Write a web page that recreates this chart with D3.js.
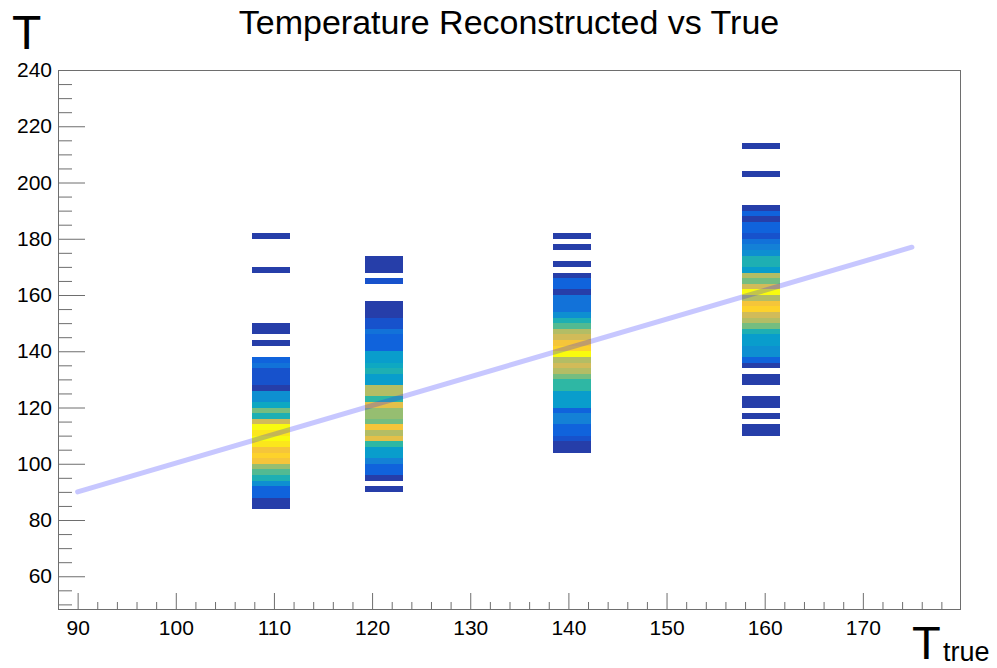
<!DOCTYPE html>
<html><head><meta charset="utf-8">
<script src="https://cdn.jsdelivr.net/npm/d3@7"></script>
<style>
body{margin:0;background:#fff}
svg{display:block}
text{font-family:"Liberation Sans",Arial,Helvetica,sans-serif;fill:#000}
</style>
</head><body>
<svg id="c" width="997" height="668"></svg>
<script>
// ---------- data ----------
const chartTitle = "Temperature Reconstructed vs True";
const yTitle = "T";
const xTitleMain = "T";
const xTitleSub = "true";
const xDomain = [88, 180];
const yDomain = [48, 240];
const xTicks = [90, 100, 110, 120, 130, 140, 150, 160, 170];
const yTicks = [60, 80, 100, 120, 140, 160, 180, 200, 220, 240];
const columnCenters = [109.7, 121.2, 140.4, 159.6];
const columnWidth = 3.85;
const binHeight = 2;
const columnStarts = [84, 90, 104, 110];
const col1Counts = [1,1,3,3,6,9,11,13,17,18,17,19,20,19,20,15,9,12,8,6,6,1,2,2,2,4,3,0,0,1,0,1,1,0,0,0,0,0,0,0,0,0,1,0,0,0,0,0,1];
const col2Counts = [1,0,1,3,3,5,7,7,10,16,14,17,12,13,13,16,10,14,14,7,7,9,8,7,7,3,3,3,4,2,2,1,1,1,0,0,0,2,0,1,1,1];
const col3Counts = [1,1,2,3,3,5,5,3,7,7,7,10,10,12,14,15,14,20,18,17,15,14,11,9,6,4,4,4,1,3,3,1,0,1,0,0,1,0,1];
const col4Counts = [1,1,0,1,0,1,1,0,0,1,1,0,1,3,6,6,7,7,9,12,14,15,18,17,14,20,15,12,14,7,9,9,6,5,4,2,3,3,1,3,1,0,0,0,0,0,1,0,0,0,0,1];
const zMax = 20;
const paletteStops = [0, 0.125, 0.25, 0.375, 0.5, 0.625, 0.75, 0.875, 1];
const paletteColors = ["#352a87","#0f5cdd","#1481d6","#06a4ca","#2eb7a4","#87bf77","#d1bb59","#fec832","#f9fb0e"];
const refLineX = [90, 175];
const refLineY = [90, 177];

// ---------- drawing ----------
const svg = d3.select("#c");
const W = 997, H = 668;
const frame = {left: 58, top: 70, right: 961, bottom: 610};
const x = d3.scaleLinear().domain(xDomain).range([frame.left, frame.right]);
const y = d3.scaleLinear().domain(yDomain).range([frame.bottom, frame.top]);
const color = d3.scaleLinear()
  .domain(paletteStops.map(s => s * zMax))
  .range(paletteColors)
  .interpolate(d3.interpolateRgb)
  .clamp(true);

svg.append("rect").attr("width", W).attr("height", H).attr("fill", "#fff");

// histogram cells
const allCols = [col1Counts, col2Counts, col3Counts, col4Counts];
const cells = [];
allCols.forEach((counts, ci) => {
  counts.forEach((n, i) => {
    if (n > 0) cells.push({xc: columnCenters[ci], y0: columnStarts[ci] + i * binHeight, n});
  });
});
svg.append("g").selectAll("rect").data(cells).join("rect")
  .attr("x", d => x(d.xc - columnWidth / 2))
  .attr("width", d => x(d.xc + columnWidth / 2) - x(d.xc - columnWidth / 2))
  .attr("y", d => y(d.y0 + binHeight))
  .attr("height", d => y(d.y0) - y(d.y0 + binHeight))
  .attr("fill", d => color(d.n))
  .attr("shape-rendering", "crispEdges");

// reference line
svg.append("line")
  .attr("x1", x(refLineX[0])).attr("y1", y(refLineY[0]))
  .attr("x2", x(refLineX[1])).attr("y2", y(refLineY[1]))
  .attr("stroke", "rgb(40,40,255)").attr("stroke-opacity", 0.26)
  .attr("stroke-width", 5).attr("stroke-linecap", "round");

// axes
const axisColor = "#6e6e6e";
const xMinor = d3.range(88, 181, 2).filter(v => v % 10 !== 0);
const yMinor = d3.range(50, 241, 5).filter(v => v % 20 !== 0);

const gx = svg.append("g").attr("transform", `translate(0,${frame.bottom})`);
gx.call(d3.axisBottom(x).tickValues(xTicks).tickSizeInner(-17).tickSizeOuter(0).tickPadding(10).tickFormat(d3.format("d")));
const gxm = svg.append("g").attr("transform", `translate(0,${frame.bottom})`);
gxm.call(d3.axisBottom(x).tickValues(xMinor).tickSizeInner(-8).tickSizeOuter(0).tickFormat(""));

const gy = svg.append("g").attr("transform", `translate(${frame.left},0)`);
gy.call(d3.axisLeft(y).tickValues(yTicks).tickSizeInner(-27).tickSizeOuter(0).tickPadding(6).tickFormat(d3.format("d")));
const gym = svg.append("g").attr("transform", `translate(${frame.left},0)`);
gym.call(d3.axisLeft(y).tickValues(yMinor).tickSizeInner(-14).tickSizeOuter(0).tickFormat(""));

[gx, gxm, gy, gym].forEach(g => {
  g.select(".domain").remove();
  g.selectAll(".tick line").attr("stroke", axisColor).attr("stroke-width", 1);
  g.selectAll(".tick text").attr("font-size", 21).attr("fill", "#000")
    .style("font-family", '"Liberation Sans",Arial,sans-serif');
});

// frame
svg.append("rect")
  .attr("x", frame.left + 0.5).attr("y", frame.top + 0.5)
  .attr("width", frame.right - frame.left - 1).attr("height", frame.bottom - frame.top - 1)
  .attr("fill", "none").attr("stroke", axisColor).attr("stroke-width", 1);

// titles
svg.append("text").attr("x", 509).attr("y", 34).attr("text-anchor", "middle")
  .attr("font-size", 34).text(chartTitle);
svg.append("text").attr("x", 12).attr("y", 49).attr("font-size", 48).text(yTitle);
svg.append("text").attr("x", 912).attr("y", 659).attr("font-size", 47).text(xTitleMain);
svg.append("text").attr("x", 943).attr("y", 661).attr("font-size", 27).text(xTitleSub);
</script>
</body></html>
